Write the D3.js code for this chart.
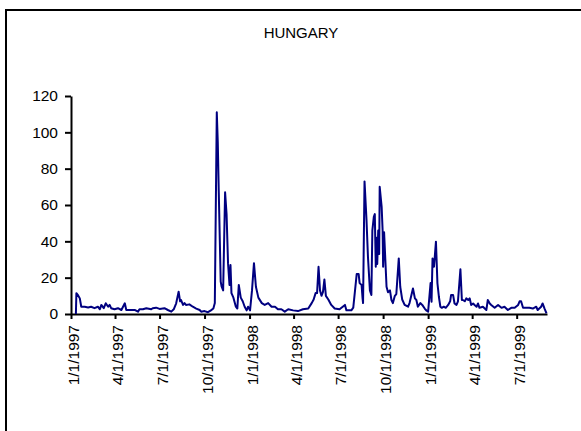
<html>
<head>
    <script src="https://d3js.org/d3.v7.min.js"></script>
    <style>
        body { margin: 0; background: #fff; }
        text { font-family: "Liberation Sans", Arial, sans-serif; }
    </style>
</head>
<body>
<svg width="581" height="431"></svg>
<script>
    // days since 1/1/1997 and the value read at that day
    const days = [10, 11, 14, 18, 21, 28, 35, 41, 48, 55, 59, 62, 67, 71, 76, 79, 82, 89, 96, 103, 110,
        113, 120, 131, 137, 140, 147, 154, 164, 167, 174, 181, 191, 198, 205, 210, 215, 220, 223, 225, 229,
        232, 235, 242, 249, 256, 263, 266, 273, 280, 286, 291, 294, 298, 300, 302, 306, 308, 311, 315, 318,
        321, 324, 326, 328, 332, 337, 340, 343, 347, 351, 355, 359, 362, 366, 370, 374, 378, 383, 390, 396,
        403, 410, 417, 423, 430, 437, 444, 454, 464, 474, 485, 492, 496, 500, 503, 506, 509, 512, 515, 518,
        521, 526, 532, 539, 549, 560, 563, 573, 577, 584, 588, 590, 594, 596, 597, 600, 604, 607, 611, 614,
        616, 619, 621, 623, 624, 626, 628, 630, 631, 635, 637, 638, 640, 645, 648, 652, 655, 658, 662, 665,
        670, 673, 677, 682, 689, 692, 699, 703, 706, 709, 714, 718, 723, 727, 730, 735, 737, 739, 742, 746,
        749, 752, 755, 758, 762, 766, 771, 775, 777, 781, 784, 788, 791, 796, 799, 801, 805, 808, 812, 815,
        818, 822, 825, 829, 832, 835, 842, 849, 852, 856, 859, 866, 873, 880, 886, 893, 900, 907, 914, 917,
        920, 924, 931, 937, 944, 951, 954, 961, 964, 968, 972];

    const values = [0, 11.4, 10.5, 8.6, 4, 4, 3.6, 4, 3.2, 4, 2.6, 5, 3.2, 5.9, 4, 5, 3.2, 2.6, 3.2, 2.2, 5.9,
        2.2, 2.2, 2.2, 1.3, 2.6, 2.6, 3.2, 2.6, 3.2, 3.5, 2.8, 3.2, 2.2, 1.3, 2.6, 5.9, 12.3, 7, 7.7, 5,
        6, 5, 5.3, 4, 3, 2.2, 1.3, 1.6, 1, 2, 3, 6, 111, 95, 68, 17.8, 15, 13, 67, 55,
        28, 16, 27, 11.5, 9, 4, 3, 16, 9, 7, 4, 2, 4, 2, 13, 28, 15, 9, 6, 5,
        6, 4, 4, 2.6, 2.6, 1.3, 2.6, 2, 1.6, 2.6, 3, 6, 8, 11.5, 11.5, 26, 13, 10, 12, 19,
        10, 8, 5, 3, 2.6, 5, 2, 2, 3.5, 22, 22, 17, 16, 8.6, 6, 73, 52, 31.5, 13, 10.5,
        46, 53.5, 55, 26, 42, 27.5, 46, 33, 70, 59, 46, 26, 45, 15, 12, 13, 7.7, 6, 10, 11,
        30.6, 15, 8, 5, 4, 6, 14, 8.6, 7.7, 4, 6, 5, 3, 1.8, 1.3, 17, 6.8, 30.6, 26, 39.8,
        17, 9.5, 4, 3.4, 4, 3.4, 5, 7, 10.5, 10.5, 5.8, 5, 7, 24.6, 7.7, 7.7, 7, 8.6, 7.7, 8.6,
        5, 5.8, 5, 4, 5.8, 3.4, 4, 2.2, 7.7, 5.8, 5, 3.4, 5, 3.4, 4, 2.2, 3.4, 3.4, 5, 7,
        7, 3.4, 3.4, 3.4, 3, 4, 2.2, 4, 5.8, 3, 0.4];

    const yTicks = [0, 20, 40, 60, 80, 100, 120];
    const xTickLabels = ["1/1/1997", "4/1/1997", "7/1/1997", "10/1/1997", "1/1/1998", "4/1/1998",
        "7/1/1998", "10/1/1998", "1/1/1999", "4/1/1999", "7/1/1999"];
    const title = "HUNGARY";

    const parse = d3.timeParse("%m/%d/%Y");
    const start = parse("1/1/1997");
    const data = days.map((d, i) => ({ date: d3.timeDay.offset(start, d), value: values[i] }));

    const svg = d3.select("svg");

    // outer frame (runs off the right and bottom edges)
    svg.append("rect")
       .attr("x", 6).attr("y", 10)
       .attr("width", 620).attr("height", 460)
       .attr("fill", "none").attr("stroke", "#000").attr("stroke-width", 2);

    svg.append("text")
       .attr("x", 301).attr("y", 38)
       .attr("text-anchor", "middle")
       .style("font-size", "15px")
       .text(title);

    const xScale = d3.scaleTime()
                     .domain([start, parse("9/1/1999")])
                     .range([71, 547]);

    const yScale = d3.scaleLinear()
                     .domain([0, 120])
                     .range([314, 96]);

    const xAxis = svg.append("g")
       .attr("transform", "translate(0,314)")
       .call(d3.axisBottom(xScale)
            .tickValues(xTickLabels.map(parse))
            .tickFormat(d3.timeFormat("%-m/%-d/%Y"))
            .tickSize(5)
            .tickSizeOuter(0));

    xAxis.selectAll("text")
         .attr("transform", "rotate(-90)")
         .attr("text-anchor", "end")
         .attr("x", -11)
         .attr("y", 2)
         .attr("dy", null)
         .attr("dominant-baseline", "central")
         .attr("fill", "#000")
         .style("font-size", "15.5px");

    const yAxis = svg.append("g")
       .attr("transform", "translate(71,0)")
       .call(d3.axisLeft(yScale)
            .tickValues(yTicks)
            .tickSize(6)
            .tickPadding(7)
            .tickSizeOuter(0));

    yAxis.selectAll("text")
         .attr("fill", "#000")
         .style("font-size", "15.5px");

    svg.selectAll(".domain, .tick line")
       .attr("stroke", "#000")
       .attr("stroke-width", 2);

    const line = d3.line()
                   .x(d => xScale(d.date))
                   .y(d => yScale(d.value));

    svg.append("path")
       .datum(data)
       .attr("d", line)
       .attr("fill", "none")
       .attr("stroke", "#000080")
       .attr("stroke-width", 2)
       .attr("stroke-linejoin", "round");
</script>
</body>
</html>
